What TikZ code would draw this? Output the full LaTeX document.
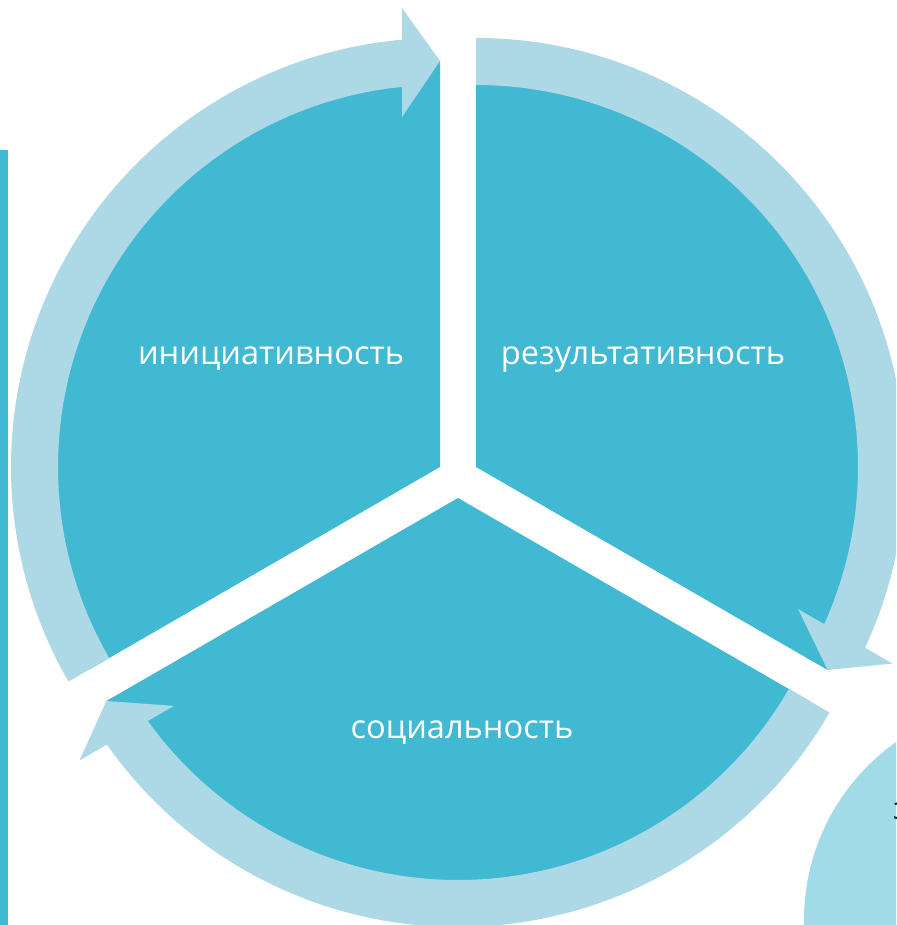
\documentclass[tikz,border=0pt]{standalone}
\usepackage{fontspec}
\setmainfont{Open Sans}
\definecolor{segblue}{HTML}{41B9D3}
\definecolor{arrowblue}{HTML}{ADD8E5}
\definecolor{sideblue}{HTML}{A1DBE7}
\tikzset{
  segment/.style={fill=segblue},
  cyclearrow/.style={fill=arrowblue},
  label/.style={text=white, font=\fontsize{32.6}{38}\selectfont, anchor=base}
}
\begin{document}
\begin{tikzpicture}[x=1pt, y=1pt]
        \useasboundingbox (0,0) rectangle (896,925);
        \clip (0,0) rectangle (896,925);

        % Side elements
        \fill[segblue] (0,0) rectangle (7.5,775);
        \fill[sideblue] (1022,5) circle (218);
        \node (cut) [anchor=base west, text=black!85, font=\fontsize{31}{36}\selectfont, inner sep=0pt] at (893,105) {з};

        % Centres
        \coordinate (cInit) at (440,458);
        \coordinate (cRes) at (476,458);
        \coordinate (cSoc) at (458,427);

        % Segments
        \fill[segment] (cInit) -- ++(90:406) arc[start angle=90, end angle=210, radius=406] -- cycle;
        \fill[segment] (cRes) -- ++(-30:406) arc[start angle=-30, end angle=90, radius=406] -- cycle;
        \fill[segment] (cSoc) -- ++(210:406) arc[start angle=210, end angle=330, radius=406] -- cycle;

        % Arrows
        \foreach \c/\r in {cInit/0, cRes/-120, cSoc/120} {
          \begin{scope}[shift={(\c)}, rotate=\r]
            \fill[cyclearrow] (210:429) arc[start angle=210, end angle=95.08, radius=429]
              -- (-38,459) -- (0,406) -- (-38,350)
              -- (95.71:382) arc[start angle=95.71, end angle=210, radius=382] -- cycle;
          \end{scope}
        }

        % Labels
        \node (init) [label] at (271,560) {инициативность};
        \node (res) [label] at (643,560) {результативность};
        \node (soc) [label] at (462,186) {социальность};

    \end{tikzpicture}
\end{document}
